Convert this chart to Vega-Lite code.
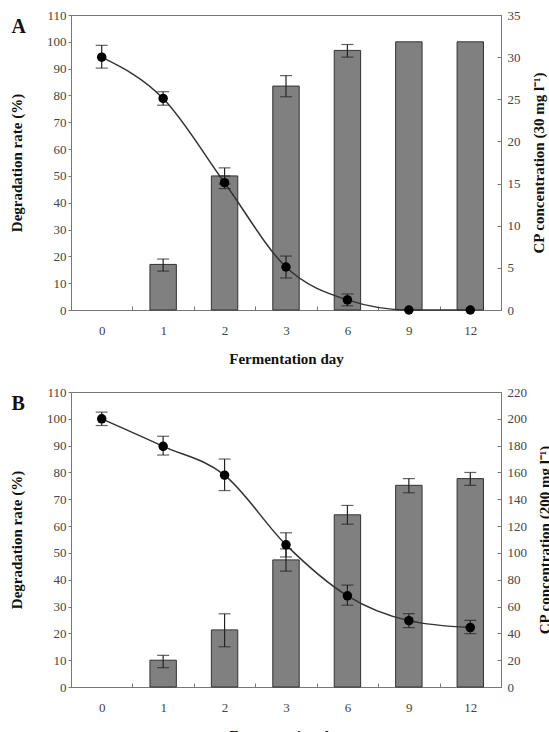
{
  "$schema": "https://vega.github.io/schema/vega-lite/v6.json",
  "padding": {"left": 9, "top": 8, "right": 0, "bottom": 0},
  "background": "white",
  "config": {
    "view": {"stroke": "#777", "strokeWidth": 1},
    "font": "Liberation Serif",
    "axis": {
      "labelFont": "Liberation Serif", "labelFontSize": 13, "labelColor": "#444",
      "titleFont": "Liberation Serif", "titleFontSize": 15, "titleFontWeight": "bold", "titleColor": "#111",
      "domainColor": "#777", "tickColor": "#777", "tickSize": 3, "grid": false
    },
    "title": {"font": "Liberation Serif", "fontSize": 20, "fontWeight": "bold", "color": "#111"}
  },
  "datasets": {
    "A": [
      {"day": 0, "cp": 30.0, "clo": 28.7, "chi": 31.4},
      {"day": 1, "rate": 17, "rlo": 14.5, "rhi": 19, "cp": 25.1, "clo": 24.3, "chi": 25.9},
      {"day": 2, "rate": 50, "rlo": 47, "rhi": 53, "cp": 15.1, "clo": 14.4, "chi": 15.9},
      {"day": 3, "rate": 83.5, "rlo": 79.5, "rhi": 87.4, "cp": 5.1, "clo": 3.8, "chi": 6.4},
      {"day": 6, "rate": 96.8, "rlo": 94.3, "rhi": 99, "cp": 1.2, "clo": 0.5, "chi": 1.9},
      {"day": 9, "rate": 100, "cp": 0},
      {"day": 12, "rate": 100, "cp": 0}
    ],
    "B": [
      {"day": 0, "cp": 200, "clo": 195, "chi": 205},
      {"day": 1, "rate": 10, "rlo": 7.2, "rhi": 11.8, "cp": 179.5, "clo": 173, "chi": 187},
      {"day": 2, "rate": 21.3, "rlo": 15, "rhi": 27.3, "cp": 158, "clo": 146.5, "chi": 170},
      {"day": 3, "rate": 47.4, "rlo": 43.2, "rhi": 51.5, "cp": 106, "clo": 97, "chi": 115},
      {"day": 6, "rate": 64.2, "rlo": 60.7, "rhi": 67.7, "cp": 68, "clo": 61, "chi": 76},
      {"day": 9, "rate": 75.2, "rlo": 72.4, "rhi": 77.7, "cp": 49.5, "clo": 44.3, "chi": 54.7},
      {"day": 12, "rate": 77.7, "rlo": 75.2, "rhi": 80, "cp": 44.3, "clo": 39.8, "chi": 49.7}
    ]
  },
  "spacing": 18,
  "vconcat": [
    {
      "title": {"text": "A", "anchor": "start", "frame": "bounds", "offset": -28, "dx": 2},
      "width": 430, "height": 295,
      "data": {"name": "A"},
      "encoding": {
        "x": {"field": "day", "type": "ordinal", "scale": {"paddingInner": 0, "paddingOuter": 0},
          "axis": {"title": "Fermentation day", "labelAngle": 0, "tickBand": "extent", "tickSize": -4, "labelPadding": 18, "titlePadding": 14}}
      },
      "layer": [
        {
          "layer": [
            {"mark": {"type": "bar", "width": {"band": 0.43}, "color": "#808080", "stroke": "#333", "strokeWidth": 1},
             "encoding": {"y": {"field": "rate", "type": "quantitative", "scale": {"domain": [0, 110], "nice": false}, "axis": {"title": "Degradation rate (%)", "values": [0,10,20,30,40,50,60,70,80,90,100,110], "titlePadding": 22}}}},
            {"mark": {"type": "errorbar", "ticks": {"size": 12, "color": "#222"}, "color": "#222", "thickness": 1.2},
             "encoding": {"y": {"field": "rlo", "type": "quantitative", "scale": {"domain": [0, 110], "nice": false}, "axis": {"title": "Degradation rate (%)", "values": [0,10,20,30,40,50,60,70,80,90,100,110], "titlePadding": 22}}, "y2": {"field": "rhi"}}}
          ]
        },
        {
          "layer": [
            {"mark": {"type": "line", "interpolate": "monotone", "color": "#333", "strokeWidth": 1.5},
             "encoding": {"y": {"field": "cp", "type": "quantitative", "scale": {"domain": [0, 35], "nice": false}, "axis": {"orient": "right", "title": "CP concentration (30 mg l\u207b\u00b9)", "titleAngle": 270, "values": [0,5,10,15,20,25,30,35], "tickSize": -4, "labelPadding": 10, "titlePadding": 26}}}},
            {"mark": {"type": "errorbar", "ticks": {"size": 12, "color": "#222"}, "color": "#222", "thickness": 1.2},
             "encoding": {"y": {"field": "clo", "type": "quantitative", "scale": {"domain": [0, 35], "nice": false}, "axis": {"orient": "right", "title": "CP concentration (30 mg l\u207b\u00b9)", "titleAngle": 270, "values": [0,5,10,15,20,25,30,35], "tickSize": -4, "labelPadding": 10, "titlePadding": 26}}, "y2": {"field": "chi"}}},
            {"mark": {"type": "point", "filled": true, "color": "#000", "size": 90, "opacity": 1},
             "encoding": {"y": {"field": "cp", "type": "quantitative", "scale": {"domain": [0, 35], "nice": false}, "axis": {"orient": "right", "title": "CP concentration (30 mg l\u207b\u00b9)", "titleAngle": 270, "values": [0,5,10,15,20,25,30,35], "tickSize": -4, "labelPadding": 10, "titlePadding": 26}}}}
          ]
        }
      ],
      "resolve": {"scale": {"y": "independent"}}
    },
    {
      "title": {"text": "B", "anchor": "start", "frame": "bounds", "offset": -28, "dx": 2},
      "width": 430, "height": 295,
      "data": {"name": "B"},
      "encoding": {
        "x": {"field": "day", "type": "ordinal", "scale": {"paddingInner": 0, "paddingOuter": 0},
          "axis": {"title": "Fermentation day", "labelAngle": 0, "tickBand": "extent", "tickSize": -4, "labelPadding": 18, "titlePadding": 14}}
      },
      "layer": [
        {
          "layer": [
            {"mark": {"type": "bar", "width": {"band": 0.43}, "color": "#808080", "stroke": "#333", "strokeWidth": 1},
             "encoding": {"y": {"field": "rate", "type": "quantitative", "scale": {"domain": [0, 110], "nice": false}, "axis": {"title": "Degradation rate (%)", "values": [0,10,20,30,40,50,60,70,80,90,100,110], "titlePadding": 22}}}},
            {"mark": {"type": "errorbar", "ticks": {"size": 12, "color": "#222"}, "color": "#222", "thickness": 1.2},
             "encoding": {"y": {"field": "rlo", "type": "quantitative", "scale": {"domain": [0, 110], "nice": false}, "axis": {"title": "Degradation rate (%)", "values": [0,10,20,30,40,50,60,70,80,90,100,110], "titlePadding": 22}}, "y2": {"field": "rhi"}}}
          ]
        },
        {
          "layer": [
            {"mark": {"type": "line", "interpolate": "monotone", "color": "#333", "strokeWidth": 1.5},
             "encoding": {"y": {"field": "cp", "type": "quantitative", "scale": {"domain": [0, 220], "nice": false}, "axis": {"orient": "right", "title": "CP concentration (200 mg l\u207b\u00b9)", "titleAngle": 270, "values": [0,20,40,60,80,100,120,140,160,180,200,220], "tickSize": -4, "labelPadding": 10, "titlePadding": 26}}}},
            {"mark": {"type": "errorbar", "ticks": {"size": 12, "color": "#222"}, "color": "#222", "thickness": 1.2},
             "encoding": {"y": {"field": "clo", "type": "quantitative", "scale": {"domain": [0, 220], "nice": false}, "axis": {"orient": "right", "title": "CP concentration (200 mg l\u207b\u00b9)", "titleAngle": 270, "values": [0,20,40,60,80,100,120,140,160,180,200,220], "tickSize": -4, "labelPadding": 10, "titlePadding": 26}}, "y2": {"field": "chi"}}},
            {"mark": {"type": "point", "filled": true, "color": "#000", "size": 90, "opacity": 1},
             "encoding": {"y": {"field": "cp", "type": "quantitative", "scale": {"domain": [0, 220], "nice": false}, "axis": {"orient": "right", "title": "CP concentration (200 mg l\u207b\u00b9)", "titleAngle": 270, "values": [0,20,40,60,80,100,120,140,160,180,200,220], "tickSize": -4, "labelPadding": 10, "titlePadding": 26}}}}
          ]
        }
      ],
      "resolve": {"scale": {"y": "independent"}}
    }
  ]
}
